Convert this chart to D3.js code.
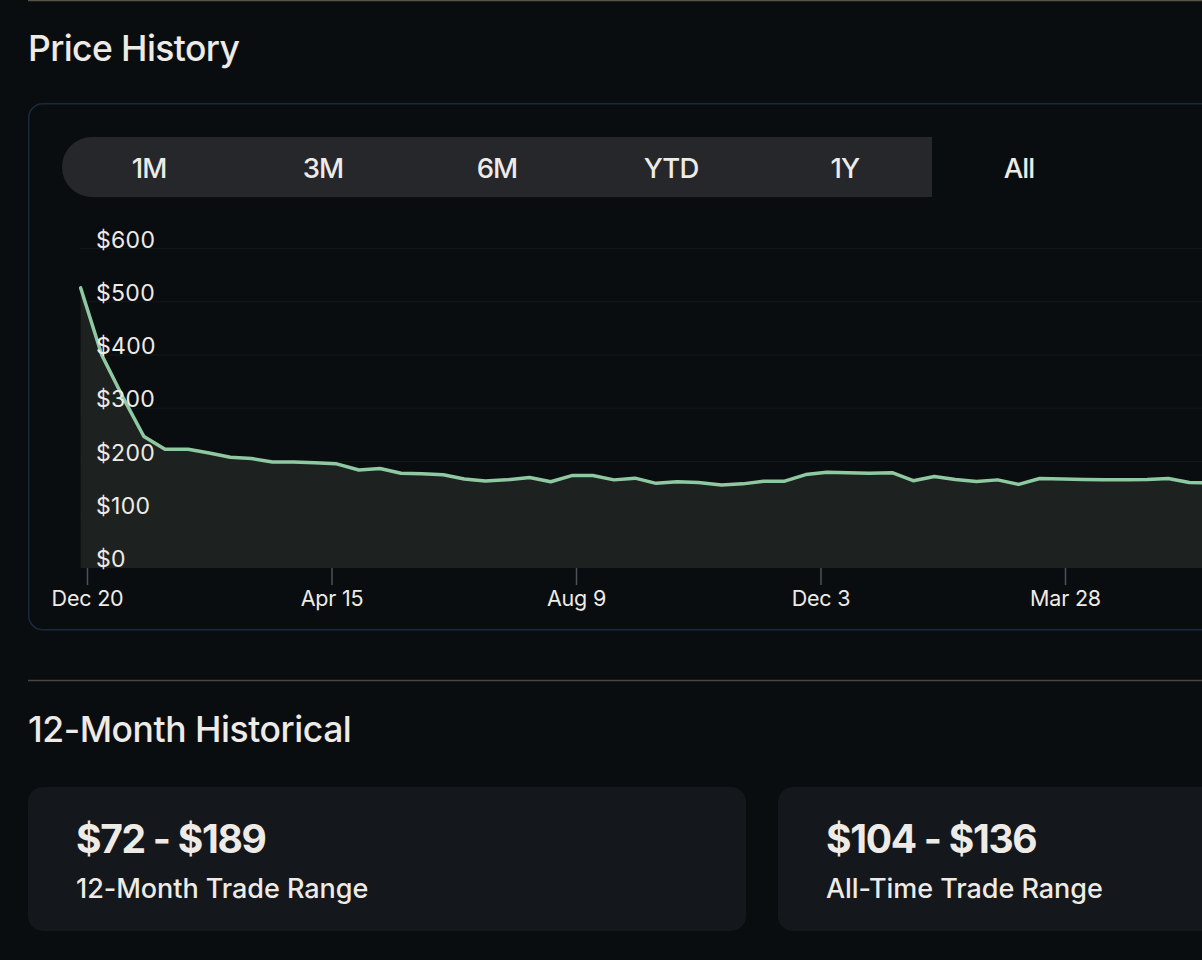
<!DOCTYPE html>
<html>
<head>
<meta charset="utf-8">
<script src="https://cdn.jsdelivr.net/npm/d3@7"></script>
<style>
  html, body { margin: 0; padding: 0; background: #0a0d10; overflow: hidden; }
  svg { display: block; font-family: Inter, "Noto Sans", sans-serif; }
</style>
</head>
<body>
<svg id="chart" width="1202" height="960"></svg>
<script>
// ---------------- data ----------------
const dates = [
  "2022-12-17","2022-12-27","2023-01-06","2023-01-16","2023-01-26","2023-02-06","2023-02-16","2023-02-26",
  "2023-03-08","2023-03-18","2023-03-28","2023-04-07","2023-04-17","2023-04-28","2023-05-08","2023-05-18",
  "2023-05-28","2023-06-07","2023-06-17","2023-06-27","2023-07-07","2023-07-18","2023-07-28","2023-08-07",
  "2023-08-17","2023-08-27","2023-09-06","2023-09-16","2023-09-26","2023-10-06","2023-10-17","2023-10-27",
  "2023-11-06","2023-11-16","2023-11-26","2023-12-06","2023-12-16","2023-12-26","2024-01-06","2024-01-16",
  "2024-01-26","2024-02-05","2024-02-15","2024-02-25","2024-03-06","2024-03-16","2024-03-27","2024-04-06",
  "2024-04-16","2024-04-26","2024-05-06","2024-05-16","2024-05-26","2024-06-05"
];
const prices = [
  526, 400, 321, 247, 223, 223, 216, 208,
  205.6, 199, 199, 197.5, 196, 184, 187, 178,
  177, 175, 167, 163.6, 165.5, 170, 162, 173.6,
  173.6, 165.5, 168.7, 159, 162, 160.4, 156, 158,
  163, 163, 175.5, 180, 178.7, 178, 179, 164,
  171.7, 166, 162.5, 165.5, 157, 168, 167, 166,
  165.5, 165.5, 166, 168, 160.4, 160
];
const yTicks = [0, 100, 200, 300, 400, 500, 600];
const xTickDates = ["2022-12-20", "2023-04-15", "2023-08-09", "2023-12-03", "2024-03-28"];
const tabs = ["1M", "3M", "6M", "YTD", "1Y", "All"];
const selectedTab = "All";
const rangeValues = ["$72 - $189", "$104 - $136"];
const rangeLabels = ["12-Month Trade Range", "All-Time Trade Range"];

// ---------------- setup ----------------
const parse = d3.timeParse("%Y-%m-%d");
const fmt = d3.timeFormat("%b %-d");
const series = dates.map((d, i) => ({ date: parse(d), v: prices[i] }));

const svg = d3.select("#chart");
const TEXT = "#eeebe6";

// top rule
svg.append("line").attr("x1", 28).attr("x2", 1202).attr("y1", 0.5).attr("y2", 0.5)
  .attr("stroke", "#5a5447").attr("stroke-width", 1.5);

// title
svg.append("text").attr("x", 28).attr("y", 61).text("Price History")
  .attr("fill", TEXT).attr("font-size", 35.5).attr("font-weight", 500).attr("letter-spacing", -0.6);

// chart card
svg.append("rect").attr("x", 28.75).attr("y", 103.75).attr("width", 1300).attr("height", 526)
  .attr("rx", 14).attr("fill", "#0a0d10").attr("stroke", "#1a2a3c").attr("stroke-width", 1.5);

// tab bar
const tabX = d3.scaleBand().domain(tabs).range([62, 62 + 174 * tabs.length]);
const barRight = tabX(selectedTab);
svg.append("path")
  .attr("d", `M92,137 H${barRight} V197 H92 A30,30 0 0 1 92,137 Z`)
  .attr("fill", "#26272b");
svg.append("g").selectAll("text").data(tabs).join("text")
  .attr("x", d => tabX(d) + tabX.bandwidth() / 2)
  .attr("y", 177.5)
  .attr("text-anchor", "middle")
  .attr("fill", TEXT).attr("font-size", 27.5).attr("font-weight", 500).attr("letter-spacing", -0.9)
  .text(d => d);

// scales
const x = d3.scaleTime().domain([parse(xTickDates[0]), parse(xTickDates[xTickDates.length - 1])]).range([87, 1065]);
const y = d3.scaleLinear().domain([0, 600]).range([568, 248.5]);

// grid
svg.append("g").selectAll("line").data(yTicks.filter(t => t > 0)).join("line")
  .attr("x1", 80).attr("x2", 1202)
  .attr("y1", d => y(d)).attr("y2", d => y(d))
  .attr("stroke", "#111819").attr("stroke-width", 1.2);

// area + line
const area = d3.area().x(d => x(d.date)).y0(y(0)).y1(d => y(d.v));
const line = d3.line().x(d => x(d.date)).y(d => y(d.v));
svg.append("path").datum(series).attr("d", area).attr("fill", "#1d2220");
svg.append("path").datum(series).attr("d", line)
  .attr("fill", "none").attr("stroke", "#8fc9a2").attr("stroke-width", 3.5)
  .attr("stroke-linejoin", "round").attr("stroke-linecap", "round");

// y labels
svg.append("g").selectAll("text").data(yTicks).join("text")
  .attr("x", 96).attr("y", d => y(d) - 1)
  .attr("fill", TEXT).attr("font-size", 23).attr("letter-spacing", 0.3)
  .text(d => "$" + d);

// x axis
const xAxis = d3.axisBottom(x)
  .tickValues(xTickDates.map(parse))
  .tickFormat(fmt)
  .tickSize(17)
  .tickPadding(6);
const gx = svg.append("g").attr("transform", `translate(0,${y(0)})`).call(xAxis);
gx.select(".domain").remove();
gx.selectAll(".tick line").attr("stroke", "#4d5056").attr("stroke-width", 1.5);
gx.selectAll(".tick text").attr("fill", TEXT).attr("font-size", 21.5)
  .attr("font-family", "Inter, sans-serif").attr("letter-spacing", -0.2);

// separator
svg.append("line").attr("x1", 28).attr("x2", 1202).attr("y1", 680.5).attr("y2", 680.5)
  .attr("stroke", "#4a463f").attr("stroke-width", 1.5);

// section title
svg.append("text").attr("x", 28).attr("y", 742).text("12-Month Historical")
  .attr("fill", TEXT).attr("font-size", 35.5).attr("font-weight", 500).attr("letter-spacing", -0.45);

// range cards
const cardX = d3.scaleOrdinal().domain(rangeValues).range([28, 778]);
const cards = svg.append("g").selectAll("g").data(rangeValues).join("g")
  .attr("transform", d => `translate(${cardX(d)},787)`);
cards.append("rect").attr("width", 718).attr("height", 144).attr("rx", 15).attr("fill", "#14171b");
cards.append("text").attr("x", 48).attr("y", 66).text(d => d)
  .attr("fill", TEXT).attr("font-size", 39).attr("font-weight", 700).attr("letter-spacing", -1.3);
cards.append("text").attr("x", 48).attr("y", 111).text((d, i) => rangeLabels[i])
  .attr("fill", TEXT).attr("font-size", 27).attr("font-weight", 500).attr("letter-spacing", -0.05);
</script>
</body>
</html>
